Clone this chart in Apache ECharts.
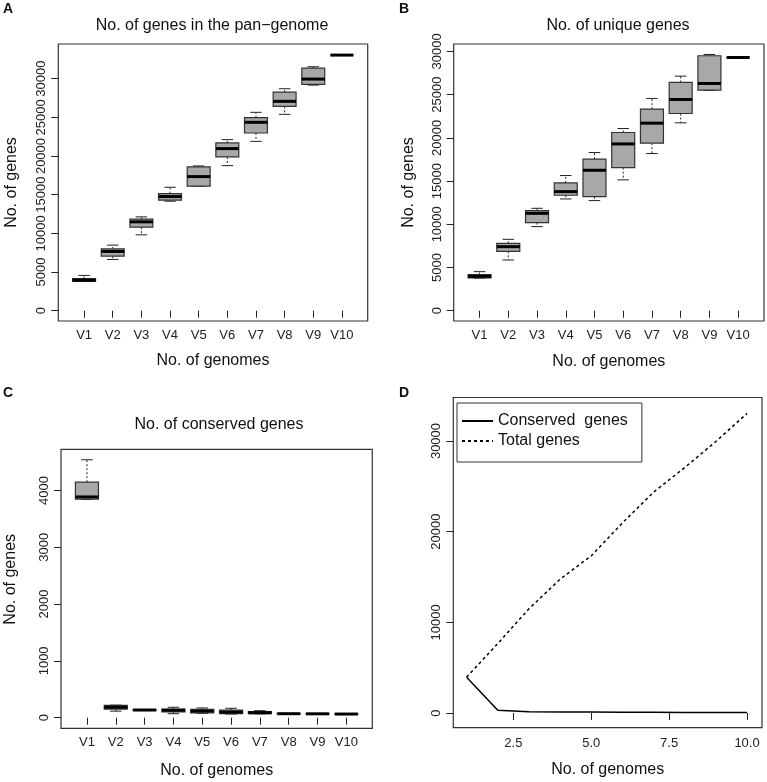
<!DOCTYPE html>
<html>
<head>
<meta charset="utf-8">
<script src="https://cdn.jsdelivr.net/npm/echarts@6/dist/echarts.min.js"></script>
<style>
  html, body { margin: 0; padding: 0; background: #fff; }
  #chart { width: 767px; height: 782px; }
</style>
</head>
<body>
<div id="chart"></div>
<script>
// genome subsets on the x axis
const categories = ["V1", "V2", "V3", "V4", "V5", "V6", "V7", "V8", "V9", "V10"];
const genomeCounts = [1, 2, 3, 4, 5, 6, 7, 8, 9, 10];

// box stats per subset: [min, q1, median, q3, max]
const panGenome = [
  [3790, 3800, 3960, 4150, 4560],
  [6630, 7060, 7660, 8000, 8480],
  [9810, 10800, 11490, 11830, 12130],
  [14160, 14290, 14760, 15150, 15960],
  [16090, 16100, 17340, 18590, 18720],
  [18760, 19880, 20960, 21690, 22120],
  [21900, 22980, 24360, 24960, 25650],
  [25390, 26420, 27070, 28270, 28700],
  [29170, 29260, 29950, 31370, 31540],
  [33050, 33050, 33050, 33050, 33050]
];
const uniqueGenes = [
  [3780, 3790, 3980, 4170, 4520],
  [5870, 6870, 7410, 7800, 8260],
  [9730, 10190, 11270, 11580, 11850],
  [12930, 13360, 13780, 14790, 15640],
  [12740, 13200, 16250, 17530, 18300],
  [15140, 16560, 19300, 20620, 21080],
  [18190, 19380, 21700, 23320, 24560],
  [21740, 22820, 24440, 26410, 27140],
  [25480, 25520, 26290, 29500, 29650],
  [29300, 29300, 29300, 29300, 29300]
];
const conservedGenes = [
  [3840, 3845, 3885, 4145, 4540],
  [115, 150, 183, 215, 220],
  [125, 130, 135, 138, 142],
  [70, 100, 130, 153, 183],
  [77, 83, 118, 148, 171],
  [64, 70, 100, 135, 165],
  [68, 70, 88, 106, 123],
  [66, 68, 70, 72, 74],
  [64, 66, 68, 70, 72],
  [60, 62, 64, 66, 68]
];

// panel D curves
const conservedCurve = [3950, 300, 150, 120, 110, 95, 85, 70, 68, 65];
const totalCurve = [3960, 7660, 11490, 14760, 17340, 20960, 24360, 27070, 29950, 33050];

// tick labels
const panTicks = [0, 5000, 10000, 15000, 20000, 25000, 30000];
const conservedTicks = [0, 1000, 2000, 3000, 4000];
const curveYTicks = [0, 10000, 20000, 30000];
const curveXTicks = [2.5, 5, 7.5, 10];

const FONT = "Liberation Sans, Arial, Helvetica, sans-serif";
const INK = "#222";

const chart = echarts.init(document.getElementById("chart"));

function renderBox(params, api) {
  const x = api.value(0);
  const pLo = api.coord([x, api.value(1)]);
  const pQ1 = api.coord([x, api.value(2)]);
  const pMd = api.coord([x, api.value(3)]);
  const pQ3 = api.coord([x, api.value(4)]);
  const pHi = api.coord([x, api.value(5)]);
  const w = api.size([0.8, 0])[0];
  const cx = pMd[0];
  const seg = (x1, y1, x2, y2, style) => ({
    type: "line",
    shape: { x1, y1, x2, y2 },
    style: Object.assign({ stroke: INK, lineWidth: 1 }, style)
  });
  return {
    type: "group",
    children: [
      seg(cx, pQ3[1], cx, pHi[1], { lineDash: [2, 2] }),
      seg(cx, pQ1[1], cx, pLo[1], { lineDash: [2, 2] }),
      seg(cx - w / 4, pHi[1], cx + w / 4, pHi[1]),
      seg(cx - w / 4, pLo[1], cx + w / 4, pLo[1]),
      {
        type: "rect",
        shape: { x: cx - w / 2, y: pQ3[1], width: w, height: pQ1[1] - pQ3[1] },
        style: { fill: "#a8a8a8", stroke: "#333", lineWidth: 1.2 }
      },
      seg(cx - w / 2, pMd[1], cx + w / 2, pMd[1], { stroke: "#000", lineWidth: 3 })
    ]
  };
}

function boxSeries(stats, idx) {
  return {
    type: "custom",
    xAxisIndex: idx,
    yAxisIndex: idx,
    renderItem: renderBox,
    encode: { x: 0, y: [1, 2, 3, 4, 5] },
    data: stats.map((s, i) => [genomeCounts[i]].concat(s))
  };
}

function boxXAxis(idx, nameGap) {
  return {
    type: "value",
    gridIndex: idx,
    min: 0.1,
    max: 10.9,
    axisLine: { show: false },
    splitLine: { show: false },
    axisTick: { show: true, customValues: genomeCounts, length: 7, lineStyle: { color: INK } },
    axisLabel: {
      customValues: genomeCounts,
      formatter: (v) => categories[Math.round(v) - 1],
      hideOverlap: false,
      margin: 8,
      fontSize: 13,
      color: INK,
      fontFamily: FONT
    },
    name: "No. of genomes",
    nameLocation: "middle",
    nameGap: nameGap,
    nameTextStyle: { fontSize: 16, color: "#111", fontFamily: FONT }
  };
}

function yAxis(idx, min, max, ticks, name, nameGap, namePad) {
  return {
    type: "value",
    gridIndex: idx,
    min: min,
    max: max,
    axisLine: { show: false },
    splitLine: { show: false },
    axisTick: { show: true, customValues: ticks, length: 7, lineStyle: { color: INK } },
    axisLabel: {
      customValues: ticks,
      formatter: (v) => String(Math.round(v)),
      hideOverlap: false,
      showMinLabel: true,
      showMaxLabel: true,
      rotate: 90,
      margin: 10,
      fontSize: 13,
      color: INK,
      fontFamily: FONT
    },
    name: name,
    nameLocation: "middle",
    nameGap: nameGap,
    nameTextStyle: { fontSize: 16, color: "#111", fontFamily: FONT, padding: namePad || 0 }
  };
}

const frame = { show: true, borderColor: "#333", borderWidth: 1.2, backgroundColor: "#fff" };

const option = {
  animation: false,
  backgroundColor: "#fff",
  textStyle: { fontFamily: FONT },
  title: [
    { text: "A", left: 3, top: 2, padding: 0, textStyle: { fontSize: 14, fontWeight: "bold", color: "#111" } },
    { text: "B", left: 399, top: 2, padding: 0, textStyle: { fontSize: 14, fontWeight: "bold", color: "#111" } },
    { text: "C", left: 3, top: 386, padding: 0, textStyle: { fontSize: 14, fontWeight: "bold", color: "#111" } },
    { text: "D", left: 399, top: 386, padding: 0, textStyle: { fontSize: 14, fontWeight: "bold", color: "#111" } },
    { text: "No. of genes in the pan\u2212genome", left: 212, top: 18, textAlign: "center", padding: 0,
      textStyle: { fontSize: 16, fontWeight: "normal", color: "#111" } },
    { text: "No. of unique genes", left: 618, top: 18, textAlign: "center", padding: 0,
      textStyle: { fontSize: 16, fontWeight: "normal", color: "#111" } },
    { text: "No. of conserved genes", left: 219, top: 417, textAlign: "center", padding: 0,
      textStyle: { fontSize: 16, fontWeight: "normal", color: "#111" } }
  ],
  legend: {
    left: 457,
    top: 403,
    orient: "vertical",
    data: ["Conserved  genes", "Total genes"],
    borderColor: "#333",
    borderWidth: 1,
    padding: [9, 14, 12, 4],
    itemGap: 2,
    itemWidth: 31,
    itemHeight: 14,
    itemStyle: { opacity: 0 },
    textStyle: { fontSize: 16, color: "#111", lineHeight: 18, fontFamily: FONT }
  },
  grid: [
    Object.assign({ left: 58.3, top: 44, width: 309.4, height: 277 }, frame),
    Object.assign({ left: 453.7, top: 44, width: 310.3, height: 277 }, frame),
    Object.assign({ left: 61, top: 449.3, width: 311.3, height: 279 }, frame),
    Object.assign({ left: 453.3, top: 397.5, width: 308.7, height: 330.2 }, frame)
  ],
  xAxis: [
    boxXAxis(0, 32),
    boxXAxis(1, 33),
    boxXAxis(2, 34),
    {
      type: "value",
      gridIndex: 3,
      min: 0.573,
      max: 10.48,
      axisLine: { show: false },
      splitLine: { show: false },
      axisTick: { show: true, customValues: curveXTicks, length: 7, lineStyle: { color: INK } },
      axisLabel: {
        customValues: curveXTicks,
        formatter: (v) => v.toFixed(1),
        margin: 9,
        fontSize: 13,
        color: INK,
        fontFamily: FONT
      },
      name: "No. of genomes",
      nameLocation: "middle",
      nameGap: 34,
      nameTextStyle: { fontSize: 16, color: "#111", fontFamily: FONT }
    }
  ],
  yAxis: [
    yAxis(0, -1332, 34485, panTicks, "No. of genes", 39),
    yAxis(1, -1190, 30860, panTicks, "No. of genes", 37),
    yAxis(2, -187, 4724, conservedTicks, "No. of genes", 42, [0, 0, 0, 19]),
    yAxis(3, -1620, 34800, curveYTicks, "", 0)
  ],
  series: [
    boxSeries(panGenome, 0),
    boxSeries(uniqueGenes, 1),
    boxSeries(conservedGenes, 2),
    {
      name: "Conserved  genes",
      type: "line",
      xAxisIndex: 3,
      yAxisIndex: 3,
      symbol: "none",
      lineStyle: { color: "#000", width: 1.5, type: "solid" },
      itemStyle: { color: "#000" },
      data: genomeCounts.map((x, i) => [x, conservedCurve[i]])
    },
    {
      name: "Total genes",
      type: "line",
      xAxisIndex: 3,
      yAxisIndex: 3,
      symbol: "none",
      lineStyle: { color: "#000", width: 1.5, type: [3, 3] },
      itemStyle: { color: "#000" },
      data: genomeCounts.map((x, i) => [x, totalCurve[i]])
    }
  ]
};

chart.setOption(option);
</script>
</body>
</html>
